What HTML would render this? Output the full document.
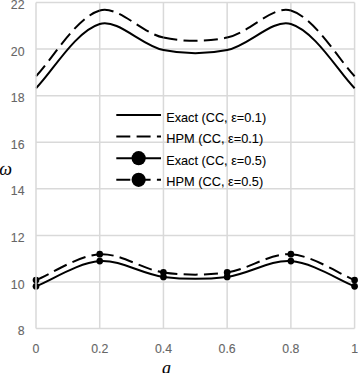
<!DOCTYPE html>
<html><head><meta charset="utf-8"><style>
html,body{margin:0;padding:0;background:#fff;}
body{width:358px;height:373px;overflow:hidden;position:relative;}
svg{position:absolute;left:0;top:0;display:block;}
</style></head><body>
<svg width="358" height="373" viewBox="0 0 358 373">
<g stroke="#d9d9d9" stroke-width="1.5" fill="none"><line x1="36.00" y1="2.50" x2="354.60" y2="2.50"/><line x1="36.00" y1="49.09" x2="354.60" y2="49.09"/><line x1="36.00" y1="95.67" x2="354.60" y2="95.67"/><line x1="36.00" y1="142.26" x2="354.60" y2="142.26"/><line x1="36.00" y1="188.84" x2="354.60" y2="188.84"/><line x1="36.00" y1="235.43" x2="354.60" y2="235.43"/><line x1="36.00" y1="282.01" x2="354.60" y2="282.01"/><line x1="36.00" y1="328.60" x2="354.60" y2="328.60"/><line x1="99.72" y1="2.50" x2="99.72" y2="328.60"/><line x1="163.44" y1="2.50" x2="163.44" y2="328.60"/><line x1="227.16" y1="2.50" x2="227.16" y2="328.60"/><line x1="290.88" y1="2.50" x2="290.88" y2="328.60"/><line x1="354.60" y1="2.50" x2="354.60" y2="328.60"/></g>
<g font-family="'Liberation Sans', sans-serif" font-size="12.3" fill="#666666" stroke="#666666" stroke-width="0.1"><text x="24.50" y="9.00" text-anchor="end">22</text><text x="24.50" y="55.59" text-anchor="end">20</text><text x="24.50" y="102.17" text-anchor="end">18</text><text x="24.50" y="148.76" text-anchor="end">16</text><text x="24.50" y="195.34" text-anchor="end">14</text><text x="24.50" y="241.93" text-anchor="end">12</text><text x="24.50" y="288.51" text-anchor="end">10</text><text x="24.50" y="335.10" text-anchor="end">8</text><text x="36.00" y="353.00" text-anchor="middle">0</text><text x="99.72" y="353.00" text-anchor="middle">0.2</text><text x="163.44" y="353.00" text-anchor="middle">0.4</text><text x="227.16" y="353.00" text-anchor="middle">0.6</text><text x="290.88" y="353.00" text-anchor="middle">0.8</text><text x="354.60" y="353.00" text-anchor="middle">1</text></g>
<g fill="none" stroke="#000" stroke-width="2" stroke-linejoin="round">
<path d="M36.00 88.20 C51.93 72.15 75.60 31.21 99.72 24.00 C118.08 18.51 141.38 45.58 163.44 50.10 C183.86 54.28 206.74 54.28 227.16 50.10 C249.22 45.58 272.52 18.51 290.88 24.00 C315.00 31.21 338.67 72.15 354.60 88.20"/>
<path d="M36.00 76.20 C51.93 59.79 75.54 17.87 99.72 10.55" stroke-dasharray="14 6.3"/><path d="M99.72 10.55 C118.02 5.01 141.32 32.91 163.44 37.60" stroke-dasharray="14 6.3"/><path d="M163.44 37.60 C183.80 41.92 206.80 41.92 227.16 37.60" stroke-dasharray="14 6.3"/><path d="M227.16 37.60 C249.28 32.91 272.58 5.01 290.88 10.55" stroke-dasharray="14 6.3"/><path d="M290.88 10.55 C315.06 17.87 338.67 59.79 354.60 76.20" stroke-dasharray="14 6.3"/>
<path d="M36.00 286.30 C51.93 280.00 78.03 262.70 99.72 261.10 C120.51 259.57 141.88 274.23 163.44 276.90 C184.36 279.49 206.24 279.49 227.16 276.90 C248.72 274.23 270.09 259.57 290.88 261.10 C312.57 262.70 338.67 280.00 354.60 286.30"/>
<path d="M36.00 280.10 C51.93 273.62 78.08 255.51 99.72 254.20" stroke-dasharray="14 6.3"/><path d="M99.72 254.20 C120.56 252.94 141.78 269.31 163.44 272.40" stroke-dasharray="14 6.3"/><path d="M163.44 272.40 C184.26 275.37 206.34 275.37 227.16 272.40" stroke-dasharray="14 6.3"/><path d="M227.16 272.40 C248.82 269.31 270.04 252.94 290.88 254.20" stroke-dasharray="14 6.3"/><path d="M290.88 254.20 C312.52 255.51 338.67 273.62 354.60 280.10" stroke-dasharray="14 6.3"/>
</g>
<g fill="#000"><circle cx="36.00" cy="286.30" r="3.35"/><circle cx="99.72" cy="261.10" r="3.35"/><circle cx="163.44" cy="276.90" r="3.35"/><circle cx="227.16" cy="276.90" r="3.35"/><circle cx="290.88" cy="261.10" r="3.35"/><circle cx="354.60" cy="286.30" r="3.35"/><circle cx="36.00" cy="280.10" r="3.35"/><circle cx="99.72" cy="254.20" r="3.35"/><circle cx="163.44" cy="272.40" r="3.35"/><circle cx="227.16" cy="272.40" r="3.35"/><circle cx="290.88" cy="254.20" r="3.35"/><circle cx="354.60" cy="280.10" r="3.35"/></g>
<line x1="36.00" y1="2.50" x2="36.00" y2="328.60" stroke="#d9d9d9" stroke-width="1.5"/>
<line x1="116.30" y1="115.00" x2="161.00" y2="115.00" stroke="#000" stroke-width="2"/><line x1="116.30" y1="136.60" x2="161.00" y2="136.60" stroke="#000" stroke-width="2" stroke-dasharray="14 6.3" stroke-dashoffset="0"/><line x1="116.30" y1="158.20" x2="161.00" y2="158.20" stroke="#000" stroke-width="2"/><circle cx="138.65" cy="158.20" r="7.10" fill="#000"/><line x1="116.30" y1="179.80" x2="161.00" y2="179.80" stroke="#000" stroke-width="2" stroke-dasharray="14 6.3" stroke-dashoffset="0"/><circle cx="138.65" cy="179.80" r="7.10" fill="#000"/>
<g font-family="'Liberation Sans', sans-serif" font-size="13" fill="#000" stroke="#000" stroke-width="0.08"><text x="166.20" y="121.50" textLength="100" lengthAdjust="spacingAndGlyphs">Exact (CC, ε=0.1)</text><text x="166.20" y="143.10" textLength="97" lengthAdjust="spacingAndGlyphs">HPM (CC, ε=0.1)</text><text x="166.20" y="164.70" textLength="100" lengthAdjust="spacingAndGlyphs">Exact (CC, ε=0.5)</text><text x="166.20" y="186.30" textLength="97" lengthAdjust="spacingAndGlyphs">HPM (CC, ε=0.5)</text></g>
<text x="-0.8" y="174.6" font-family="'Liberation Serif', serif" font-style="italic" font-size="18" fill="#000" stroke="#000" stroke-width="0.1">ω</text>
<text x="162" y="374" font-family="'Liberation Serif', serif" font-style="italic" font-size="18" fill="#000" stroke="#000" stroke-width="0.1">a</text>
</svg>
</body></html>
